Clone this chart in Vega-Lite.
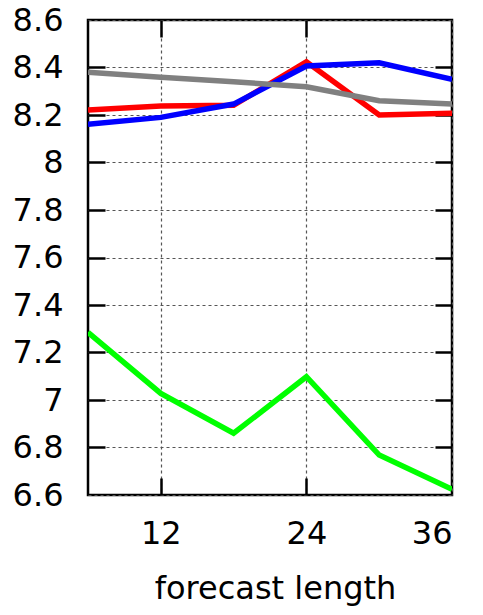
{
  "$schema": "https://vega.github.io/schema/vega-lite/v6.json",
  "width": 364,
  "height": 475,
  "autosize": {"type": "none"},
  "padding": {"left": 88, "top": 20, "right": 31, "bottom": 120},
  "background": "#ffffff",
  "config": {
    "view": {"stroke": "#000000", "strokeWidth": 2.5},
    "axis": {
      "labelFont": "DejaVu Sans",
      "titleFont": "DejaVu Sans",
      "labelFontSize": 32,
      "titleFontSize": 32,
      "labelColor": "#000000",
      "titleColor": "#000000",
      "titleFontWeight": "normal",
      "domain": false,
      "tickColor": "#000000",
      "tickWidth": 2.5,
      "tickSize": 17,
      "gridColor": "#555555",
      "gridDash": [3, 3],
      "gridWidth": 1.2
    }
  },
  "data": {
    "values": [
      {"x": 6, "y": 8.221, "s": "red"},
      {"x": 12, "y": 8.238, "s": "red"},
      {"x": 18, "y": 8.241, "s": "red"},
      {"x": 24, "y": 8.424, "s": "red"},
      {"x": 30, "y": 8.2, "s": "red"},
      {"x": 36, "y": 8.207, "s": "red"},
      {"x": 6, "y": 7.285, "s": "green"},
      {"x": 12, "y": 7.028, "s": "green"},
      {"x": 18, "y": 6.86, "s": "green"},
      {"x": 24, "y": 7.098, "s": "green"},
      {"x": 30, "y": 6.768, "s": "green"},
      {"x": 36, "y": 6.624, "s": "green"},
      {"x": 6, "y": 8.161, "s": "blue"},
      {"x": 12, "y": 8.19, "s": "blue"},
      {"x": 18, "y": 8.246, "s": "blue"},
      {"x": 24, "y": 8.406, "s": "blue"},
      {"x": 30, "y": 8.42, "s": "blue"},
      {"x": 36, "y": 8.35, "s": "blue"},
      {"x": 6, "y": 8.38, "s": "gray"},
      {"x": 12, "y": 8.359, "s": "gray"},
      {"x": 18, "y": 8.34, "s": "gray"},
      {"x": 24, "y": 8.319, "s": "gray"},
      {"x": 30, "y": 8.26, "s": "gray"},
      {"x": 36, "y": 8.246, "s": "gray"}
    ]
  },
  "layer": [
    {
      "mark": {"type": "line", "strokeWidth": 5.5, "clip": true},
      "encoding": {
        "x": {
          "field": "x", "type": "quantitative",
          "scale": {"domain": [6, 36], "nice": false, "zero": false},
          "axis": {"values": [12, 24, 36], "title": "forecast length", "grid": true, "ticks": false, "labelPadding": 23, "labelDx": 6, "titlePadding": 24, "titleX": 187}
        },
        "y": {
          "field": "y", "type": "quantitative",
          "scale": {"domain": [6.6, 8.6], "nice": false, "zero": false},
          "axis": {"values": [6.6, 6.8, 7, 7.2, 7.4, 7.6, 7.8, 8, 8.2, 8.4, 8.6], "format": "~g", "title": null, "grid": true, "ticks": false, "labelPadding": 25}
        },
        "color": {
          "field": "s", "type": "nominal",
          "scale": {"domain": ["red", "green", "blue", "gray"], "range": ["#ff0000", "#00ff00", "#0000ff", "#808080"]},
          "legend": null
        }
      }
    },
    {
      "mark": {"type": "line", "strokeOpacity": 0},
      "encoding": {
        "x": {
          "field": "x", "type": "quantitative",
          "scale": {"domain": [6, 36], "nice": false, "zero": false},
          "axis": {"orient": "top", "offset": -17, "values": [12, 24], "title": null, "labels": false, "grid": false}
        },
        "y": {
          "field": "y", "type": "quantitative",
          "scale": {"domain": [6.6, 8.6], "nice": false, "zero": false},
          "axis": {"orient": "right", "offset": -17, "values": [6.8, 7, 7.2, 7.4, 7.6, 7.8, 8, 8.2, 8.4], "title": null, "labels": false, "grid": false}
        },
        "detail": {"field": "s", "type": "nominal"}
      }
    },
    {
      "mark": {"type": "line", "strokeOpacity": 0},
      "encoding": {
        "x": {
          "field": "x", "type": "quantitative",
          "scale": {"domain": [6, 36], "nice": false, "zero": false},
          "axis": {"orient": "bottom", "offset": -17, "values": [12, 24], "title": null, "labels": false, "grid": false}
        },
        "y": {
          "field": "y", "type": "quantitative",
          "scale": {"domain": [6.6, 8.6], "nice": false, "zero": false},
          "axis": {"orient": "left", "offset": -17, "values": [6.8, 7, 7.2, 7.4, 7.6, 7.8, 8, 8.2, 8.4], "title": null, "labels": false, "grid": false}
        },
        "detail": {"field": "s", "type": "nominal"}
      }
    }
  ],
  "resolve": {"axis": {"x": "independent", "y": "independent"}}
}
